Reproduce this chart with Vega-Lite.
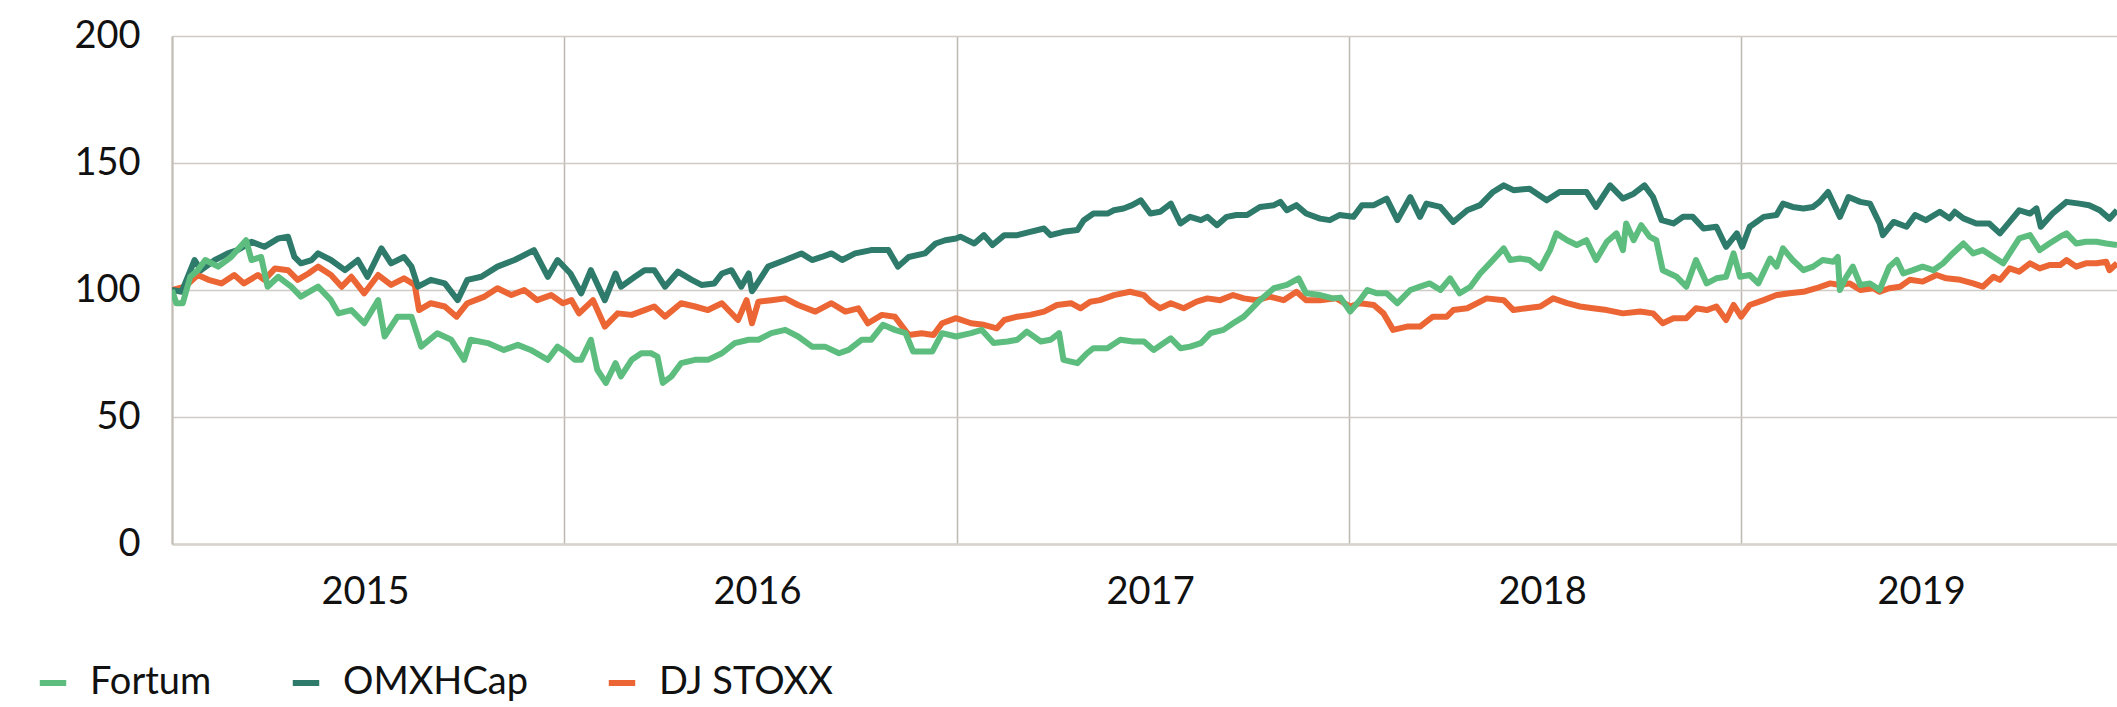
{
"$schema": "https://vega.github.io/schema/vega-lite/v6.json",
"width": 1945, "height": 508,
"autosize": {"type": "none"},
"padding": {"left": 172, "top": 36, "right": 0, "bottom": 163},
"background": "white",
"config": {"font": "Lato", "view": {"stroke": null}},
"data": {"values": [
{"date":"2015-01-01","series":"DJ STOXX","value":100},{"date":"2015-01-13","series":"DJ STOXX","value":101.3},{"date":"2015-01-25","series":"DJ STOXX","value":105.9},{"date":"2015-02-04","series":"DJ STOXX","value":104},{"date":"2015-02-16","series":"DJ STOXX","value":102.6},{"date":"2015-02-28","series":"DJ STOXX","value":105.9},{"date":"2015-03-09","series":"DJ STOXX","value":102.6},{"date":"2015-03-22","series":"DJ STOXX","value":105.9},{"date":"2015-03-28","series":"DJ STOXX","value":104},{"date":"2015-04-07","series":"DJ STOXX","value":108.5},{"date":"2015-04-19","series":"DJ STOXX","value":107.8},{"date":"2015-04-28","series":"DJ STOXX","value":104},{"date":"2015-05-08","series":"DJ STOXX","value":106.5},{"date":"2015-05-17","series":"DJ STOXX","value":109.2},{"date":"2015-05-29","series":"DJ STOXX","value":105.9},{"date":"2015-06-08","series":"DJ STOXX","value":101.3},{"date":"2015-06-17","series":"DJ STOXX","value":105.2},{"date":"2015-06-29","series":"DJ STOXX","value":98.7},{"date":"2015-07-12","series":"DJ STOXX","value":105.9},{"date":"2015-07-24","series":"DJ STOXX","value":102},{"date":"2015-08-05","series":"DJ STOXX","value":104.6},{"date":"2015-08-15","series":"DJ STOXX","value":102},{"date":"2015-08-19","series":"DJ STOXX","value":92.1},{"date":"2015-08-30","series":"DJ STOXX","value":94.8},{"date":"2015-09-12","series":"DJ STOXX","value":93.5},{"date":"2015-09-23","series":"DJ STOXX","value":89.5},{"date":"2015-10-03","series":"DJ STOXX","value":94.8},{"date":"2015-10-19","series":"DJ STOXX","value":97.4},{"date":"2015-10-31","series":"DJ STOXX","value":100.7},{"date":"2015-11-13","series":"DJ STOXX","value":98},{"date":"2015-11-25","series":"DJ STOXX","value":100},{"date":"2015-12-07","series":"DJ STOXX","value":96},{"date":"2015-12-20","series":"DJ STOXX","value":98},{"date":"2015-12-31","series":"DJ STOXX","value":94.8},
{"date":"2016-01-08","series":"DJ STOXX","value":96},{"date":"2016-01-15","series":"DJ STOXX","value":90.8},{"date":"2016-01-28","series":"DJ STOXX","value":96},{"date":"2016-02-08","series":"DJ STOXX","value":85.6},{"date":"2016-02-20","series":"DJ STOXX","value":90.8},{"date":"2016-03-04","series":"DJ STOXX","value":90.2},{"date":"2016-03-16","series":"DJ STOXX","value":92.1},{"date":"2016-03-25","series":"DJ STOXX","value":93.5},{"date":"2016-04-04","series":"DJ STOXX","value":89.5},{"date":"2016-04-19","series":"DJ STOXX","value":94.8},{"date":"2016-05-02","series":"DJ STOXX","value":93.5},{"date":"2016-05-14","series":"DJ STOXX","value":92.1},{"date":"2016-05-27","series":"DJ STOXX","value":94.8},{"date":"2016-06-11","series":"DJ STOXX","value":88.2},{"date":"2016-06-19","series":"DJ STOXX","value":96},{"date":"2016-06-24","series":"DJ STOXX","value":86.9},{"date":"2016-06-30","series":"DJ STOXX","value":95.4},{"date":"2016-07-12","series":"DJ STOXX","value":96},{"date":"2016-07-25","series":"DJ STOXX","value":96.7},{"date":"2016-08-06","series":"DJ STOXX","value":94.1},{"date":"2016-08-22","series":"DJ STOXX","value":91.5},{"date":"2016-09-06","series":"DJ STOXX","value":94.8},{"date":"2016-09-19","series":"DJ STOXX","value":91.5},{"date":"2016-10-01","series":"DJ STOXX","value":92.8},{"date":"2016-10-10","series":"DJ STOXX","value":86.9},{"date":"2016-10-23","series":"DJ STOXX","value":90.2},{"date":"2016-11-04","series":"DJ STOXX","value":89.5},{"date":"2016-11-17","series":"DJ STOXX","value":82.3},{"date":"2016-11-29","series":"DJ STOXX","value":83},{"date":"2016-12-10","series":"DJ STOXX","value":82.3},{"date":"2016-12-18","series":"DJ STOXX","value":86.9},{"date":"2016-12-31","series":"DJ STOXX","value":88.9},
{"date":"2017-01-14","series":"DJ STOXX","value":86.9},{"date":"2017-01-26","series":"DJ STOXX","value":86.3},{"date":"2017-02-07","series":"DJ STOXX","value":84.9},{"date":"2017-02-14","series":"DJ STOXX","value":88.2},{"date":"2017-02-26","series":"DJ STOXX","value":89.5},{"date":"2017-03-10","series":"DJ STOXX","value":90.2},{"date":"2017-03-23","series":"DJ STOXX","value":91.5},{"date":"2017-04-04","series":"DJ STOXX","value":94.1},{"date":"2017-04-17","series":"DJ STOXX","value":94.8},{"date":"2017-04-26","series":"DJ STOXX","value":92.8},{"date":"2017-05-05","series":"DJ STOXX","value":95.4},{"date":"2017-05-14","series":"DJ STOXX","value":96},{"date":"2017-05-27","series":"DJ STOXX","value":98},{"date":"2017-06-11","series":"DJ STOXX","value":99.3},{"date":"2017-06-24","series":"DJ STOXX","value":98},{"date":"2017-06-30","series":"DJ STOXX","value":95.4},{"date":"2017-07-09","series":"DJ STOXX","value":92.8},{"date":"2017-07-19","series":"DJ STOXX","value":94.8},{"date":"2017-07-31","series":"DJ STOXX","value":92.8},{"date":"2017-08-12","series":"DJ STOXX","value":95.4},{"date":"2017-08-22","series":"DJ STOXX","value":96.7},{"date":"2017-09-03","series":"DJ STOXX","value":96},{"date":"2017-09-15","series":"DJ STOXX","value":98},{"date":"2017-09-25","series":"DJ STOXX","value":96.7},{"date":"2017-10-07","series":"DJ STOXX","value":96},{"date":"2017-10-19","series":"DJ STOXX","value":97.4},{"date":"2017-11-01","series":"DJ STOXX","value":96},{"date":"2017-11-13","series":"DJ STOXX","value":99.3},{"date":"2017-11-22","series":"DJ STOXX","value":96},{"date":"2017-12-05","series":"DJ STOXX","value":96},{"date":"2017-12-20","series":"DJ STOXX","value":96.7},
{"date":"2018-01-02","series":"DJ STOXX","value":93.5},{"date":"2018-01-11","series":"DJ STOXX","value":94.8},{"date":"2018-01-24","series":"DJ STOXX","value":94.1},{"date":"2018-02-02","series":"DJ STOXX","value":90.8},{"date":"2018-02-11","series":"DJ STOXX","value":84.3},{"date":"2018-02-24","series":"DJ STOXX","value":85.6},{"date":"2018-03-08","series":"DJ STOXX","value":85.6},{"date":"2018-03-20","series":"DJ STOXX","value":89.5},{"date":"2018-04-02","series":"DJ STOXX","value":89.5},{"date":"2018-04-08","series":"DJ STOXX","value":92.1},{"date":"2018-04-21","series":"DJ STOXX","value":92.8},{"date":"2018-05-09","series":"DJ STOXX","value":96.7},{"date":"2018-05-25","series":"DJ STOXX","value":96},{"date":"2018-06-03","series":"DJ STOXX","value":92.1},{"date":"2018-06-15","series":"DJ STOXX","value":92.8},{"date":"2018-06-28","series":"DJ STOXX","value":93.5},{"date":"2018-07-10","series":"DJ STOXX","value":96.7},{"date":"2018-07-23","series":"DJ STOXX","value":94.8},{"date":"2018-08-04","series":"DJ STOXX","value":93.5},{"date":"2018-08-16","series":"DJ STOXX","value":92.8},{"date":"2018-08-29","series":"DJ STOXX","value":92.1},{"date":"2018-09-13","series":"DJ STOXX","value":90.8},{"date":"2018-09-29","series":"DJ STOXX","value":91.5},{"date":"2018-10-11","series":"DJ STOXX","value":90.8},{"date":"2018-10-20","series":"DJ STOXX","value":86.9},{"date":"2018-10-30","series":"DJ STOXX","value":88.9},{"date":"2018-11-11","series":"DJ STOXX","value":88.9},{"date":"2018-11-20","series":"DJ STOXX","value":92.8},{"date":"2018-11-30","series":"DJ STOXX","value":92.1},{"date":"2018-12-09","series":"DJ STOXX","value":93.5},{"date":"2018-12-18","series":"DJ STOXX","value":88.2},{"date":"2018-12-25","series":"DJ STOXX","value":94.1},
{"date":"2019-01-01","series":"DJ STOXX","value":89.5},{"date":"2019-01-09","series":"DJ STOXX","value":94.1},{"date":"2019-01-22","series":"DJ STOXX","value":96},{"date":"2019-02-03","series":"DJ STOXX","value":98},{"date":"2019-02-15","series":"DJ STOXX","value":98.7},{"date":"2019-02-28","series":"DJ STOXX","value":99.3},{"date":"2019-03-12","series":"DJ STOXX","value":100.7},{"date":"2019-03-25","series":"DJ STOXX","value":102.6},{"date":"2019-04-03","series":"DJ STOXX","value":102},{"date":"2019-04-12","series":"DJ STOXX","value":102.6},{"date":"2019-04-22","series":"DJ STOXX","value":100},{"date":"2019-05-04","series":"DJ STOXX","value":100.7},{"date":"2019-05-10","series":"DJ STOXX","value":99.3},{"date":"2019-05-19","series":"DJ STOXX","value":100.7},{"date":"2019-05-29","series":"DJ STOXX","value":101.3},{"date":"2019-06-07","series":"DJ STOXX","value":104},{"date":"2019-06-19","series":"DJ STOXX","value":103.3},{"date":"2019-07-02","series":"DJ STOXX","value":105.9},{"date":"2019-07-11","series":"DJ STOXX","value":104.6},{"date":"2019-07-24","series":"DJ STOXX","value":104},{"date":"2019-08-05","series":"DJ STOXX","value":102.6},{"date":"2019-08-14","series":"DJ STOXX","value":101.3},{"date":"2019-08-24","series":"DJ STOXX","value":105.2},{"date":"2019-08-30","series":"DJ STOXX","value":104},{"date":"2019-09-08","series":"DJ STOXX","value":108.5},{"date":"2019-09-17","series":"DJ STOXX","value":107.2},{"date":"2019-09-27","series":"DJ STOXX","value":110.5},{"date":"2019-10-06","series":"DJ STOXX","value":108.5},{"date":"2019-10-15","series":"DJ STOXX","value":109.8},{"date":"2019-10-25","series":"DJ STOXX","value":109.8},{"date":"2019-10-31","series":"DJ STOXX","value":111.8},{"date":"2019-11-09","series":"DJ STOXX","value":109.2},{"date":"2019-11-18","series":"DJ STOXX","value":110.5},{"date":"2019-11-28","series":"DJ STOXX","value":110.5},{"date":"2019-12-07","series":"DJ STOXX","value":111.1},{"date":"2019-12-10","series":"DJ STOXX","value":107.8},{"date":"2019-12-17","series":"DJ STOXX","value":110.5},
{"date":"2015-01-01","series":"OMXHCap","value":100},{"date":"2015-01-10","series":"OMXHCap","value":99.3},{"date":"2015-01-22","series":"OMXHCap","value":111.8},{"date":"2015-01-28","series":"OMXHCap","value":107.8},{"date":"2015-02-10","series":"OMXHCap","value":111.8},{"date":"2015-02-22","series":"OMXHCap","value":114.4},{"date":"2015-03-03","series":"OMXHCap","value":115.7},{"date":"2015-03-16","series":"OMXHCap","value":119},{"date":"2015-03-28","series":"OMXHCap","value":117},{"date":"2015-04-10","series":"OMXHCap","value":120.3},{"date":"2015-04-19","series":"OMXHCap","value":121},{"date":"2015-04-25","series":"OMXHCap","value":113},{"date":"2015-05-01","series":"OMXHCap","value":110.5},{"date":"2015-05-11","series":"OMXHCap","value":111.8},{"date":"2015-05-17","series":"OMXHCap","value":114.4},{"date":"2015-05-29","series":"OMXHCap","value":111.8},{"date":"2015-06-11","series":"OMXHCap","value":107.8},{"date":"2015-06-23","series":"OMXHCap","value":111.8},{"date":"2015-07-02","series":"OMXHCap","value":105.2},{"date":"2015-07-15","series":"OMXHCap","value":116.4},{"date":"2015-07-24","series":"OMXHCap","value":110.5},{"date":"2015-08-05","series":"OMXHCap","value":113},{"date":"2015-08-12","series":"OMXHCap","value":109.2},{"date":"2015-08-18","series":"OMXHCap","value":101.3},{"date":"2015-08-30","series":"OMXHCap","value":104},{"date":"2015-09-12","series":"OMXHCap","value":102.6},{"date":"2015-09-24","series":"OMXHCap","value":96},{"date":"2015-10-03","series":"OMXHCap","value":104},{"date":"2015-10-16","series":"OMXHCap","value":105.2},{"date":"2015-10-31","series":"OMXHCap","value":109.2},{"date":"2015-11-16","series":"OMXHCap","value":111.8},{"date":"2015-12-04","series":"OMXHCap","value":115.7},{"date":"2015-12-17","series":"OMXHCap","value":105.2},{"date":"2015-12-26","series":"OMXHCap","value":111.8},
{"date":"2016-01-07","series":"OMXHCap","value":106.5},{"date":"2016-01-17","series":"OMXHCap","value":98.7},{"date":"2016-01-26","series":"OMXHCap","value":107.8},{"date":"2016-02-08","series":"OMXHCap","value":96},{"date":"2016-02-18","series":"OMXHCap","value":106.5},{"date":"2016-02-23","series":"OMXHCap","value":101.3},{"date":"2016-03-07","series":"OMXHCap","value":105.2},{"date":"2016-03-16","series":"OMXHCap","value":107.8},{"date":"2016-03-25","series":"OMXHCap","value":107.8},{"date":"2016-04-04","series":"OMXHCap","value":101.3},{"date":"2016-04-16","series":"OMXHCap","value":107.2},{"date":"2016-04-29","series":"OMXHCap","value":104},{"date":"2016-05-08","series":"OMXHCap","value":102},{"date":"2016-05-20","series":"OMXHCap","value":102.6},{"date":"2016-05-27","series":"OMXHCap","value":106.5},{"date":"2016-06-05","series":"OMXHCap","value":107.8},{"date":"2016-06-14","series":"OMXHCap","value":101.3},{"date":"2016-06-21","series":"OMXHCap","value":106.5},{"date":"2016-06-24","series":"OMXHCap","value":99.5},{"date":"2016-06-27","series":"OMXHCap","value":101.3},{"date":"2016-07-09","series":"OMXHCap","value":109.2},{"date":"2016-07-25","series":"OMXHCap","value":111.8},{"date":"2016-08-09","series":"OMXHCap","value":114.4},{"date":"2016-08-19","series":"OMXHCap","value":111.8},{"date":"2016-08-28","series":"OMXHCap","value":113},{"date":"2016-09-06","series":"OMXHCap","value":114.4},{"date":"2016-09-16","series":"OMXHCap","value":111.8},{"date":"2016-09-28","series":"OMXHCap","value":114.4},{"date":"2016-10-13","series":"OMXHCap","value":115.7},{"date":"2016-10-29","series":"OMXHCap","value":115.7},{"date":"2016-11-07","series":"OMXHCap","value":109.2},{"date":"2016-11-17","series":"OMXHCap","value":113},{"date":"2016-12-02","series":"OMXHCap","value":114.4},{"date":"2016-12-12","series":"OMXHCap","value":118.3},{"date":"2016-12-21","series":"OMXHCap","value":119.6},{"date":"2016-12-31","series":"OMXHCap","value":120.3},
{"date":"2017-01-04","series":"OMXHCap","value":121},{"date":"2017-01-17","series":"OMXHCap","value":118.3},{"date":"2017-01-26","series":"OMXHCap","value":121.6},{"date":"2017-02-03","series":"OMXHCap","value":117.7},{"date":"2017-02-14","series":"OMXHCap","value":121.6},{"date":"2017-02-26","series":"OMXHCap","value":121.6},{"date":"2017-03-10","series":"OMXHCap","value":122.9},{"date":"2017-03-23","series":"OMXHCap","value":124.2},{"date":"2017-03-29","series":"OMXHCap","value":121.6},{"date":"2017-04-10","series":"OMXHCap","value":122.9},{"date":"2017-04-23","series":"OMXHCap","value":123.6},{"date":"2017-04-29","series":"OMXHCap","value":127.5},{"date":"2017-05-08","series":"OMXHCap","value":130.1},{"date":"2017-05-21","series":"OMXHCap","value":130.1},{"date":"2017-05-27","series":"OMXHCap","value":131.4},{"date":"2017-06-05","series":"OMXHCap","value":132.1},{"date":"2017-06-13","series":"OMXHCap","value":133.4},{"date":"2017-06-21","series":"OMXHCap","value":135.3},{"date":"2017-06-30","series":"OMXHCap","value":130.1},{"date":"2017-07-09","series":"OMXHCap","value":130.8},{"date":"2017-07-19","series":"OMXHCap","value":134},{"date":"2017-07-28","series":"OMXHCap","value":126.2},{"date":"2017-08-06","series":"OMXHCap","value":128.8},{"date":"2017-08-16","series":"OMXHCap","value":127.5},{"date":"2017-08-22","series":"OMXHCap","value":128.8},{"date":"2017-08-31","series":"OMXHCap","value":125.5},{"date":"2017-09-09","series":"OMXHCap","value":128.8},{"date":"2017-09-18","series":"OMXHCap","value":129.5},{"date":"2017-09-28","series":"OMXHCap","value":129.5},{"date":"2017-10-10","series":"OMXHCap","value":132.7},{"date":"2017-10-23","series":"OMXHCap","value":133.4},{"date":"2017-10-29","series":"OMXHCap","value":134.7},{"date":"2017-11-04","series":"OMXHCap","value":131.4},{"date":"2017-11-13","series":"OMXHCap","value":133.4},{"date":"2017-11-22","series":"OMXHCap","value":130.1},{"date":"2017-12-05","series":"OMXHCap","value":128.1},{"date":"2017-12-14","series":"OMXHCap","value":127.5},{"date":"2017-12-23","series":"OMXHCap","value":129.5},
{"date":"2018-01-05","series":"OMXHCap","value":128.8},{"date":"2018-01-13","series":"OMXHCap","value":133.4},{"date":"2018-01-24","series":"OMXHCap","value":133.4},{"date":"2018-02-05","series":"OMXHCap","value":136},{"date":"2018-02-15","series":"OMXHCap","value":127.5},{"date":"2018-02-27","series":"OMXHCap","value":136.6},{"date":"2018-03-08","series":"OMXHCap","value":128.8},{"date":"2018-03-14","series":"OMXHCap","value":134},{"date":"2018-03-27","series":"OMXHCap","value":132.7},{"date":"2018-04-08","series":"OMXHCap","value":126.8},{"date":"2018-04-21","series":"OMXHCap","value":131.4},{"date":"2018-05-03","series":"OMXHCap","value":133.4},{"date":"2018-05-15","series":"OMXHCap","value":138.6},{"date":"2018-05-25","series":"OMXHCap","value":141.2},{"date":"2018-06-03","series":"OMXHCap","value":139.3},{"date":"2018-06-18","series":"OMXHCap","value":139.9},{"date":"2018-07-04","series":"OMXHCap","value":135.3},{"date":"2018-07-16","series":"OMXHCap","value":138.6},{"date":"2018-07-29","series":"OMXHCap","value":138.6},{"date":"2018-08-10","series":"OMXHCap","value":138.6},{"date":"2018-08-19","series":"OMXHCap","value":132.7},{"date":"2018-09-01","series":"OMXHCap","value":141.2},{"date":"2018-09-13","series":"OMXHCap","value":136},{"date":"2018-09-23","series":"OMXHCap","value":137.9},{"date":"2018-10-03","series":"OMXHCap","value":141.2},{"date":"2018-10-11","series":"OMXHCap","value":136.6},{"date":"2018-10-19","series":"OMXHCap","value":127.5},{"date":"2018-10-30","series":"OMXHCap","value":126.2},{"date":"2018-11-08","series":"OMXHCap","value":128.8},{"date":"2018-11-17","series":"OMXHCap","value":128.8},{"date":"2018-11-27","series":"OMXHCap","value":124.2},{"date":"2018-12-09","series":"OMXHCap","value":124.9},{"date":"2018-12-18","series":"OMXHCap","value":117},{"date":"2018-12-28","series":"OMXHCap","value":122.3},
{"date":"2019-01-02","series":"OMXHCap","value":117},{"date":"2019-01-09","series":"OMXHCap","value":124.9},{"date":"2019-01-22","series":"OMXHCap","value":128.8},{"date":"2019-02-03","series":"OMXHCap","value":129.5},{"date":"2019-02-09","series":"OMXHCap","value":134},{"date":"2019-02-18","series":"OMXHCap","value":132.7},{"date":"2019-02-28","series":"OMXHCap","value":132.1},{"date":"2019-03-09","series":"OMXHCap","value":132.7},{"date":"2019-03-15","series":"OMXHCap","value":134.7},{"date":"2019-03-23","series":"OMXHCap","value":138.6},{"date":"2019-04-03","series":"OMXHCap","value":128.8},{"date":"2019-04-11","series":"OMXHCap","value":136.6},{"date":"2019-04-22","series":"OMXHCap","value":134.7},{"date":"2019-05-01","series":"OMXHCap","value":134},{"date":"2019-05-10","series":"OMXHCap","value":126.2},{"date":"2019-05-13","series":"OMXHCap","value":121.6},{"date":"2019-05-23","series":"OMXHCap","value":126.8},{"date":"2019-06-04","series":"OMXHCap","value":124.9},{"date":"2019-06-12","series":"OMXHCap","value":129.5},{"date":"2019-06-22","series":"OMXHCap","value":127.5},{"date":"2019-07-05","series":"OMXHCap","value":130.8},{"date":"2019-07-14","series":"OMXHCap","value":128.2},{"date":"2019-07-19","series":"OMXHCap","value":130.8},{"date":"2019-07-27","series":"OMXHCap","value":128.2},{"date":"2019-08-08","series":"OMXHCap","value":126.2},{"date":"2019-08-20","series":"OMXHCap","value":126.2},{"date":"2019-08-30","series":"OMXHCap","value":122.3},{"date":"2019-09-08","series":"OMXHCap","value":126.8},{"date":"2019-09-17","series":"OMXHCap","value":131.4},{"date":"2019-09-27","series":"OMXHCap","value":130.1},{"date":"2019-10-03","series":"OMXHCap","value":132.1},{"date":"2019-10-07","series":"OMXHCap","value":124.9},{"date":"2019-10-18","series":"OMXHCap","value":130.1},{"date":"2019-10-31","series":"OMXHCap","value":134.7},{"date":"2019-11-12","series":"OMXHCap","value":134},{"date":"2019-11-21","series":"OMXHCap","value":133.4},{"date":"2019-12-01","series":"OMXHCap","value":131.4},{"date":"2019-12-10","series":"OMXHCap","value":128.1},{"date":"2019-12-17","series":"OMXHCap","value":131.4},
{"date":"2015-01-01","series":"Fortum","value":100},{"date":"2015-01-05","series":"Fortum","value":94.8},{"date":"2015-01-11","series":"Fortum","value":94.8},{"date":"2015-01-18","series":"Fortum","value":105.2},{"date":"2015-01-25","series":"Fortum","value":107.8},{"date":"2015-02-01","series":"Fortum","value":111.8},{"date":"2015-02-13","series":"Fortum","value":109.2},{"date":"2015-02-25","series":"Fortum","value":113},{"date":"2015-03-11","series":"Fortum","value":119.6},{"date":"2015-03-16","series":"Fortum","value":111.8},{"date":"2015-03-25","series":"Fortum","value":113},{"date":"2015-03-31","series":"Fortum","value":101.3},{"date":"2015-04-10","series":"Fortum","value":105.2},{"date":"2015-04-22","series":"Fortum","value":101.3},{"date":"2015-05-01","series":"Fortum","value":97.4},{"date":"2015-05-17","series":"Fortum","value":101.3},{"date":"2015-05-29","series":"Fortum","value":96},{"date":"2015-06-05","series":"Fortum","value":90.8},{"date":"2015-06-17","series":"Fortum","value":92.1},{"date":"2015-06-29","series":"Fortum","value":86.9},{"date":"2015-07-12","series":"Fortum","value":96},{"date":"2015-07-18","series":"Fortum","value":81.7},{"date":"2015-07-30","series":"Fortum","value":89.5},{"date":"2015-08-12","series":"Fortum","value":89.5},{"date":"2015-08-21","series":"Fortum","value":77.7},{"date":"2015-09-05","series":"Fortum","value":83},{"date":"2015-09-18","series":"Fortum","value":80.4},{"date":"2015-09-30","series":"Fortum","value":72.5},{"date":"2015-10-06","series":"Fortum","value":80.4},{"date":"2015-10-22","series":"Fortum","value":79.1},{"date":"2015-11-06","series":"Fortum","value":76.4},{"date":"2015-11-19","series":"Fortum","value":78.4},{"date":"2015-12-01","series":"Fortum","value":76.4},{"date":"2015-12-17","series":"Fortum","value":72.5},{"date":"2015-12-26","series":"Fortum","value":77.7},
{"date":"2016-01-04","series":"Fortum","value":75.1},{"date":"2016-01-11","series":"Fortum","value":72.5},{"date":"2016-01-17","series":"Fortum","value":72.5},{"date":"2016-01-26","series":"Fortum","value":80.4},{"date":"2016-02-01","series":"Fortum","value":68.6},{"date":"2016-02-09","series":"Fortum","value":63.4},{"date":"2016-02-18","series":"Fortum","value":71.2},{"date":"2016-02-23","series":"Fortum","value":66},{"date":"2016-03-04","series":"Fortum","value":72.5},{"date":"2016-03-13","series":"Fortum","value":75.1},{"date":"2016-03-22","series":"Fortum","value":75.1},{"date":"2016-03-28","series":"Fortum","value":73.8},{"date":"2016-04-02","series":"Fortum","value":63.4},{"date":"2016-04-10","series":"Fortum","value":66},{"date":"2016-04-19","series":"Fortum","value":71.2},{"date":"2016-05-02","series":"Fortum","value":72.5},{"date":"2016-05-14","series":"Fortum","value":72.5},{"date":"2016-05-27","series":"Fortum","value":75.1},{"date":"2016-06-08","series":"Fortum","value":79.1},{"date":"2016-06-21","series":"Fortum","value":80.4},{"date":"2016-06-30","series":"Fortum","value":80.4},{"date":"2016-07-12","series":"Fortum","value":83},{"date":"2016-07-25","series":"Fortum","value":84.3},{"date":"2016-08-06","series":"Fortum","value":81.7},{"date":"2016-08-19","series":"Fortum","value":77.7},{"date":"2016-08-31","series":"Fortum","value":77.7},{"date":"2016-09-13","series":"Fortum","value":75.1},{"date":"2016-09-22","series":"Fortum","value":76.4},{"date":"2016-10-04","series":"Fortum","value":80.4},{"date":"2016-10-13","series":"Fortum","value":80.4},{"date":"2016-10-24","series":"Fortum","value":86.3},{"date":"2016-11-04","series":"Fortum","value":84.3},{"date":"2016-11-14","series":"Fortum","value":83},{"date":"2016-11-21","series":"Fortum","value":75.8},{"date":"2016-12-09","series":"Fortum","value":75.8},{"date":"2016-12-18","series":"Fortum","value":83},{"date":"2016-12-31","series":"Fortum","value":81.7},
{"date":"2017-01-14","series":"Fortum","value":83},{"date":"2017-01-24","series":"Fortum","value":84.3},{"date":"2017-02-04","series":"Fortum","value":79.1},{"date":"2017-02-17","series":"Fortum","value":79.7},{"date":"2017-02-26","series":"Fortum","value":80.4},{"date":"2017-03-07","series":"Fortum","value":83.6},{"date":"2017-03-20","series":"Fortum","value":79.7},{"date":"2017-03-29","series":"Fortum","value":80.4},{"date":"2017-04-06","series":"Fortum","value":83},{"date":"2017-04-10","series":"Fortum","value":72.5},{"date":"2017-04-23","series":"Fortum","value":71.2},{"date":"2017-05-02","series":"Fortum","value":75.1},{"date":"2017-05-08","series":"Fortum","value":77.1},{"date":"2017-05-21","series":"Fortum","value":77.1},{"date":"2017-06-02","series":"Fortum","value":80.4},{"date":"2017-06-14","series":"Fortum","value":79.7},{"date":"2017-06-24","series":"Fortum","value":79.7},{"date":"2017-07-03","series":"Fortum","value":76.4},{"date":"2017-07-19","series":"Fortum","value":81},{"date":"2017-07-28","series":"Fortum","value":77.1},{"date":"2017-08-06","series":"Fortum","value":77.7},{"date":"2017-08-16","series":"Fortum","value":79.1},{"date":"2017-08-25","series":"Fortum","value":83},{"date":"2017-09-06","series":"Fortum","value":84.3},{"date":"2017-09-15","series":"Fortum","value":86.9},{"date":"2017-09-25","series":"Fortum","value":89.5},{"date":"2017-10-01","series":"Fortum","value":92.1},{"date":"2017-10-10","series":"Fortum","value":96},{"date":"2017-10-23","series":"Fortum","value":100.7},{"date":"2017-11-04","series":"Fortum","value":102},{"date":"2017-11-15","series":"Fortum","value":104.6},{"date":"2017-11-22","series":"Fortum","value":98.7},{"date":"2017-12-05","series":"Fortum","value":98},{"date":"2017-12-17","series":"Fortum","value":96.7},{"date":"2017-12-24","series":"Fortum","value":97},
{"date":"2018-01-02","series":"Fortum","value":91.5},{"date":"2018-01-11","series":"Fortum","value":96},{"date":"2018-01-18","series":"Fortum","value":100},{"date":"2018-01-27","series":"Fortum","value":98.7},{"date":"2018-02-05","series":"Fortum","value":98.7},{"date":"2018-02-15","series":"Fortum","value":94.8},{"date":"2018-02-27","series":"Fortum","value":100},{"date":"2018-03-08","series":"Fortum","value":101.3},{"date":"2018-03-17","series":"Fortum","value":102.6},{"date":"2018-03-27","series":"Fortum","value":100},{"date":"2018-04-05","series":"Fortum","value":104.6},{"date":"2018-04-14","series":"Fortum","value":98.7},{"date":"2018-04-24","series":"Fortum","value":101.3},{"date":"2018-05-03","series":"Fortum","value":106.5},{"date":"2018-05-12","series":"Fortum","value":110.5},{"date":"2018-05-25","series":"Fortum","value":116.4},{"date":"2018-05-31","series":"Fortum","value":111.8},{"date":"2018-06-09","series":"Fortum","value":112.4},{"date":"2018-06-18","series":"Fortum","value":111.8},{"date":"2018-06-28","series":"Fortum","value":108.5},{"date":"2018-07-07","series":"Fortum","value":115.7},{"date":"2018-07-13","series":"Fortum","value":122.3},{"date":"2018-07-23","series":"Fortum","value":119.6},{"date":"2018-08-01","series":"Fortum","value":117.7},{"date":"2018-08-10","series":"Fortum","value":119.6},{"date":"2018-08-19","series":"Fortum","value":111.8},{"date":"2018-08-29","series":"Fortum","value":119},{"date":"2018-09-07","series":"Fortum","value":122.3},{"date":"2018-09-13","series":"Fortum","value":115.7},{"date":"2018-09-16","series":"Fortum","value":126.2},{"date":"2018-09-23","series":"Fortum","value":119.6},{"date":"2018-09-30","series":"Fortum","value":125.5},{"date":"2018-10-08","series":"Fortum","value":120.9},{"date":"2018-10-14","series":"Fortum","value":119.6},{"date":"2018-10-20","series":"Fortum","value":107.8},{"date":"2018-11-02","series":"Fortum","value":105.2},{"date":"2018-11-11","series":"Fortum","value":101.3},{"date":"2018-11-20","series":"Fortum","value":111.8},{"date":"2018-11-30","series":"Fortum","value":102.6},{"date":"2018-12-09","series":"Fortum","value":104.6},{"date":"2018-12-18","series":"Fortum","value":105.2},{"date":"2018-12-25","series":"Fortum","value":114.4},{"date":"2018-12-31","series":"Fortum","value":105.2},
{"date":"2019-01-09","series":"Fortum","value":105.9},{"date":"2019-01-17","series":"Fortum","value":102.6},{"date":"2019-01-28","series":"Fortum","value":112.4},{"date":"2019-02-03","series":"Fortum","value":109.2},{"date":"2019-02-09","series":"Fortum","value":116.4},{"date":"2019-02-18","series":"Fortum","value":111.8},{"date":"2019-02-28","series":"Fortum","value":107.8},{"date":"2019-03-09","series":"Fortum","value":109.2},{"date":"2019-03-18","series":"Fortum","value":111.8},{"date":"2019-03-28","series":"Fortum","value":111.1},{"date":"2019-04-01","series":"Fortum","value":113},{"date":"2019-04-03","series":"Fortum","value":100},{"date":"2019-04-09","series":"Fortum","value":105.2},{"date":"2019-04-15","series":"Fortum","value":109.2},{"date":"2019-04-22","series":"Fortum","value":102},{"date":"2019-05-01","series":"Fortum","value":102.6},{"date":"2019-05-10","series":"Fortum","value":100},{"date":"2019-05-19","series":"Fortum","value":109.2},{"date":"2019-05-26","series":"Fortum","value":111.8},{"date":"2019-06-01","series":"Fortum","value":106.5},{"date":"2019-06-10","series":"Fortum","value":107.8},{"date":"2019-06-19","series":"Fortum","value":109.2},{"date":"2019-06-29","series":"Fortum","value":107.8},{"date":"2019-07-08","series":"Fortum","value":110.5},{"date":"2019-07-17","series":"Fortum","value":114.4},{"date":"2019-07-27","series":"Fortum","value":118.3},{"date":"2019-08-05","series":"Fortum","value":114.4},{"date":"2019-08-14","series":"Fortum","value":115.7},{"date":"2019-08-24","series":"Fortum","value":113},{"date":"2019-09-02","series":"Fortum","value":110.5},{"date":"2019-09-08","series":"Fortum","value":114.4},{"date":"2019-09-17","series":"Fortum","value":120.3},{"date":"2019-09-27","series":"Fortum","value":121.6},{"date":"2019-10-06","series":"Fortum","value":115.7},{"date":"2019-10-15","series":"Fortum","value":118.3},{"date":"2019-10-25","series":"Fortum","value":121},{"date":"2019-10-31","series":"Fortum","value":122.3},{"date":"2019-11-09","series":"Fortum","value":118.3},{"date":"2019-11-18","series":"Fortum","value":119},{"date":"2019-11-28","series":"Fortum","value":119},{"date":"2019-12-07","series":"Fortum","value":118.3},{"date":"2019-12-17","series":"Fortum","value":117.7}
]},
"mark": {"type": "line", "strokeWidth": 6, "strokeJoin": "round", "clip": true},
"encoding": {
  "x": {"field": "date", "type": "temporal",
    "scale": {"type": "utc", "domain": [{"year": 2015, "month": 1, "date": 1, "utc": true}, {"year": 2019, "month": 12, "date": 17, "utc": true}]},
    "axis": {"title": null,
      "values": [{"year": 2015, "month": 1, "date": 1, "utc": true}, {"year": 2016, "month": 1, "date": 1, "utc": true}, {"year": 2017, "month": 1, "date": 1, "utc": true}, {"year": 2018, "month": 1, "date": 1, "utc": true}, {"year": 2019, "month": 1, "date": 1, "utc": true}],
      "labelExpr": "utcFormat(datum.value, '%Y')",
      "grid": true, "gridColor": "#bdb9b1", "gridWidth": 1.5,
      "domain": true, "domainColor": "#d6d2cc", "domainWidth": 2.5,
      "ticks": false, "tickSize": 0,
      "labelFont": "Lato", "labelFontSize": 38, "labelColor": "#111111",
      "labelPadding": 29, "labelBaseline": "top", "labelAlign": "center",
      "labelFlush": false, "labelOverlap": false, "labelBound": false,
      "labelOffset": {"condition": {"test": "utcyear(datum.value) == 2019", "value": 180}, "value": 193}}},
  "y": {"field": "value", "type": "quantitative",
    "scale": {"domain": [0, 200], "nice": false, "zero": true},
    "axis": {"title": null, "values": [0, 50, 100, 150, 200],
      "grid": true, "gridColor": "#cfcbc5", "gridWidth": 1.5,
      "domain": true, "domainColor": "#c2beb6", "domainWidth": 2,
      "ticks": false, "tickSize": 0,
      "labelFont": "Lato", "labelFontSize": 38, "labelColor": "#111111",
      "labelPadding": 32, "labelBaseline": "middle"}},
  "color": {"field": "series", "type": "nominal",
    "scale": {"domain": ["Fortum", "OMXHCap", "DJ STOXX"], "range": ["#5dbd7e", "#2e7a6b", "#eb6634"]},
    "legend": {"title": null, "orient": "none", "legendX": -138, "legendY": 628, "direction": "horizontal",
      "symbolType": "stroke", "symbolSize": 700, "symbolStrokeWidth": 6,
      "labelFont": "Lato", "labelFontSize": 38, "labelColor": "#111111", "labelOffset": 18, "labelLimit": 0, "columnPadding": 68}}
}
}
